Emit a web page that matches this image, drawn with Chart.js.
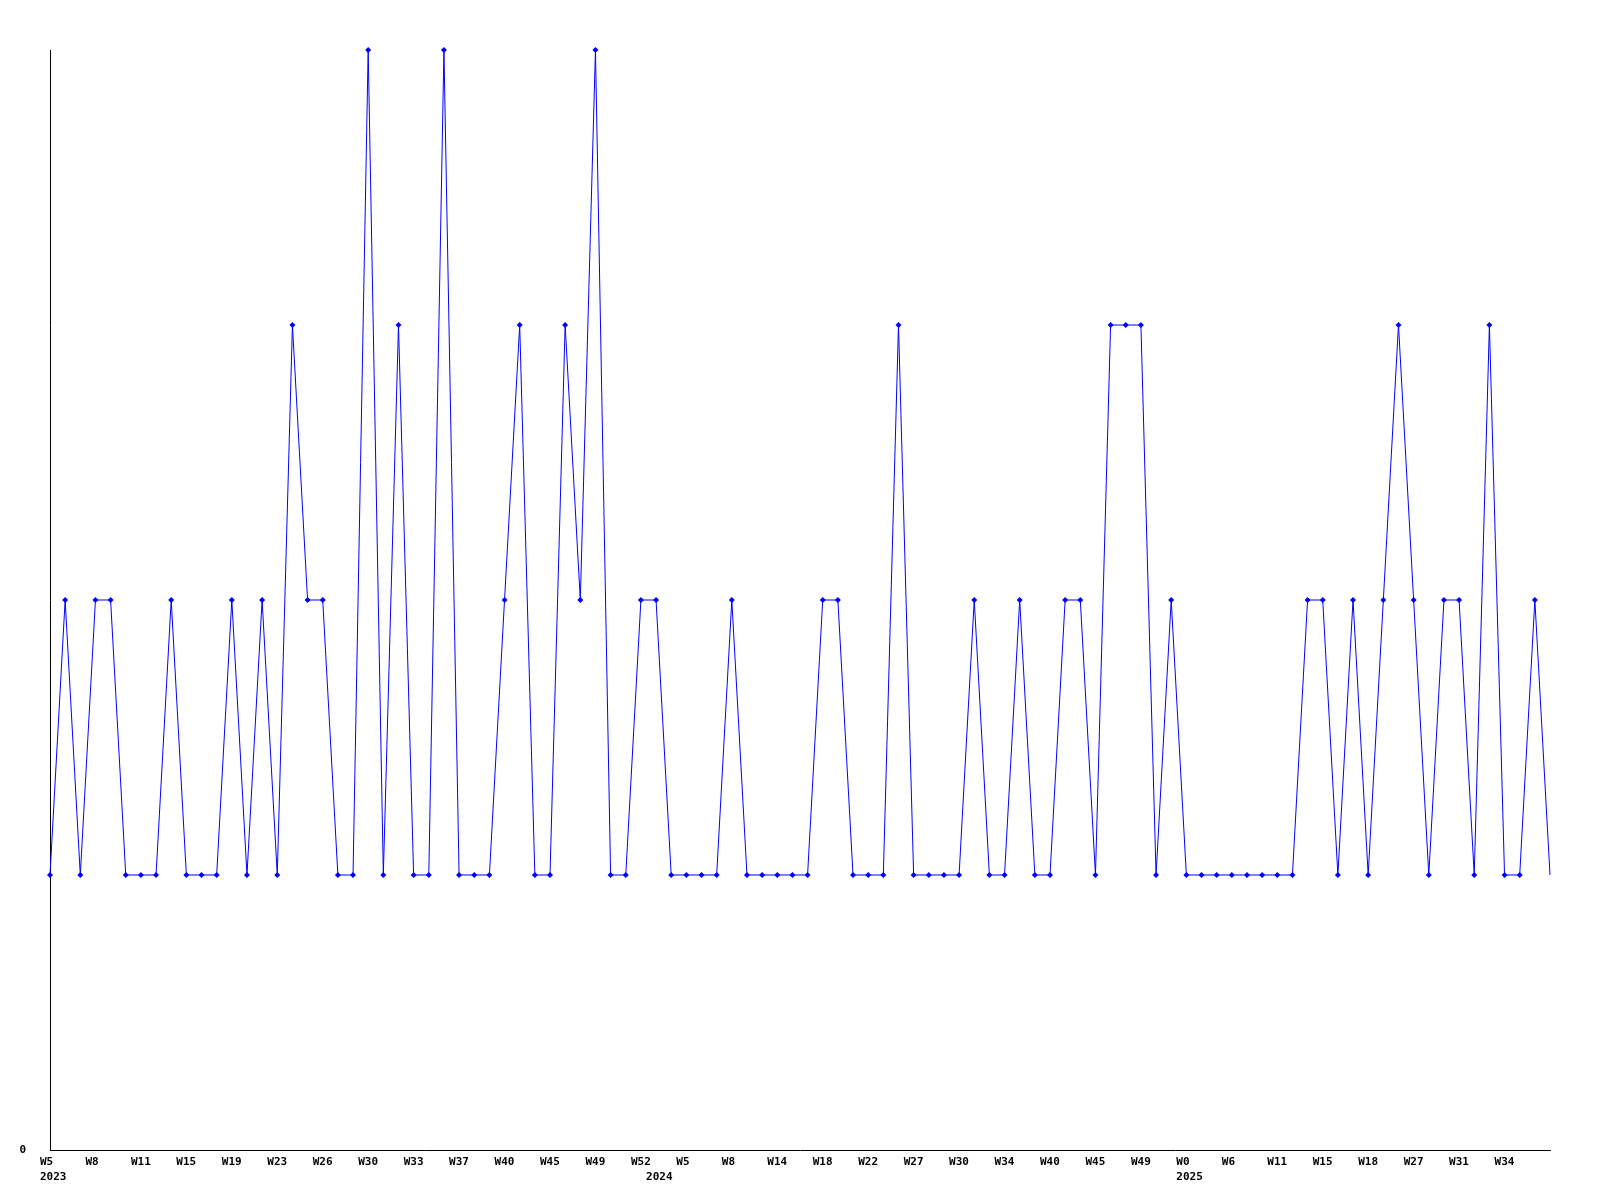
<!DOCTYPE html>
<html>
<head>
  <title>Weekly Count</title>
  <script src="https://cdn.jsdelivr.net/npm/chart.js"></script>
  <style>
    body { margin: 0; background: #fff; }
    canvas { display: block; }
  </style>
</head>
<body>
  <canvas id="weeklyChart" width="1600" height="1200"></canvas>

  <script>
    // week numbers per year, in order
    const weeks2023 = [5, 6, 7, 8, 9, 10, 11, 12, 14, 15, 17, 18, 19, 20, 22, 23, 24, 25, 26, 27,
                       29, 30, 31, 32, 33, 34, 36, 37, 38, 39, 40, 42, 44, 45, 46, 48, 49, 50, 51, 52];
    const weeks2024 = [1, 3, 5, 6, 7, 8, 10, 12, 14, 15, 16, 18, 19, 20, 22, 24, 26, 27, 28, 29,
                       30, 31, 33, 34, 36, 38, 40, 41, 43, 45, 46, 47, 49, 50, 51];
    const weeks2025 = [0, 2, 4, 6, 8, 9, 11, 12, 14, 15, 16, 17, 18, 21, 24, 27, 28, 30, 31, 32,
                       33, 34, 35, 36, 37];
    const years = ["2023", "2024", "2025"];

    const counts = [
      1, 2, 1, 2, 2, 1, 1, 1, 2, 1, 1, 1, 2, 1, 2, 1, 3, 2, 2, 1,
      1, 4, 1, 3, 1, 1, 4, 1, 1, 1, 2, 3, 1, 1, 3, 2, 4, 1, 1, 2,
      2, 1, 1, 1, 1, 2, 1, 1, 1, 1, 1, 2, 2, 1, 1, 1, 3, 1, 1, 1,
      1, 2, 1, 1, 2, 1, 1, 2, 2, 1, 3, 3, 3, 1, 2, 1, 1, 1, 1, 1,
      1, 1, 1, 2, 2, 1, 2, 1, 2, 3, 2, 1, 2, 2, 1, 3, 1, 1, 2, 1
    ];

    const labels = [];
    const yearStart = {};
    [weeks2023, weeks2024, weeks2025].forEach((wk, y) => {
      yearStart[labels.length] = years[y];
      wk.forEach(w => labels.push("W" + w));
    });

    const tickFont = { family: "DejaVu Sans Mono", size: 11, weight: "bold", lineHeight: "15px" };
    const last = counts.length - 1;

    new Chart(document.getElementById("weeklyChart"), {
      type: "line",
      data: {
        labels,
        datasets: [{
          data: counts,
          borderColor: "#0000ff",
          backgroundColor: "#0000ff",
          borderWidth: 1,
          tension: 0,
          pointStyle: "rectRot",
          pointRadius: ctx => ctx.dataIndex === last ? 0 : 3,
          pointBorderWidth: 0,
          clip: false
        }]
      },
      options: {
        responsive: false,
        animation: false,
        layout: { padding: { top: 50, right: 50, left: 0, bottom: 0 } },
        plugins: { legend: { display: false }, tooltip: { enabled: false } },
        scales: {
          x: {
            offset: false,
            grid: { display: true, drawOnChartArea: false, drawTicks: false },
            border: { color: "#000", width: 1 },
            afterFit: s => { s.height = 50; },
            ticks: {
              autoSkip: false,
              maxRotation: 0,
              align: "start",
              labelOffset: -10,
              padding: 5,
              color: "#000",
              font: tickFont,
              callback: (v, i) => {
                const yr = yearStart[i];
                if (i % 3 === 0 && i < last) return yr ? [labels[i], yr] : labels[i];
                if (yr) return ["", yr];
                return "";
              }
            }
          },
          y: {
            min: 0,
            max: 4,
            grid: { display: true, drawOnChartArea: false, drawTicks: false },
            border: { color: "#000", width: 1 },
            afterFit: s => { s.width = 50; },
            afterBuildTicks: s => { s.ticks = [{ value: 0 }]; },
            ticks: {
              padding: 24,
              color: "#000",
              font: tickFont,
              callback: v => String(v)
            }
          }
        }
      }
    });
  </script>
</body>
</html>
